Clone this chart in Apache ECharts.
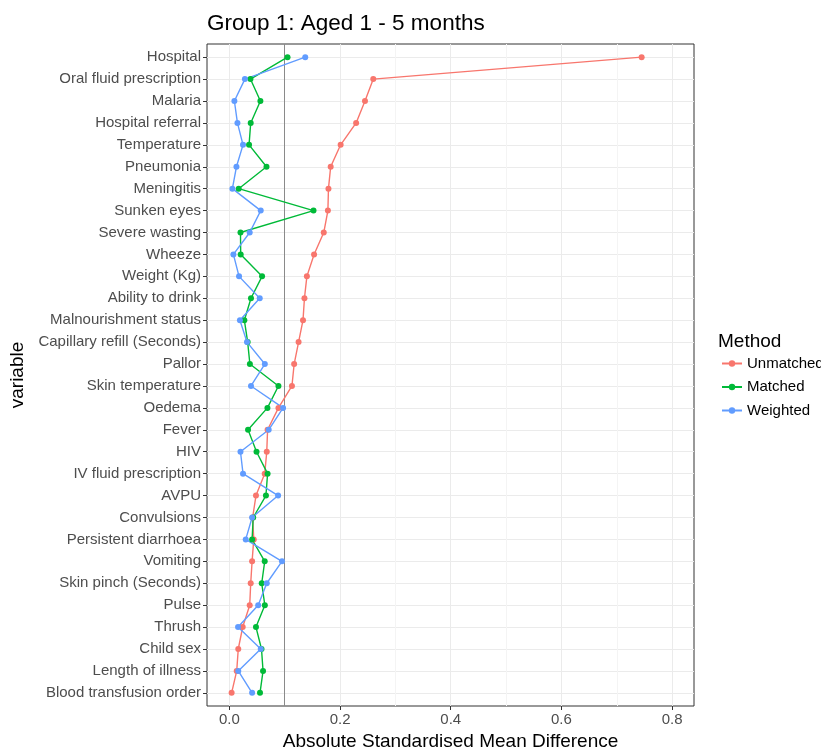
<!DOCTYPE html>
<html><head><meta charset="utf-8">
<script src="https://cdn.jsdelivr.net/npm/echarts@6/dist/echarts.min.js"></script>
<style>html,body{margin:0;padding:0;background:#fff}#c{width:821px;height:752px}</style>
</head><body><div id="c"></div>
<script>
const categories = ["Hospital","Oral fluid prescription","Malaria","Hospital referral","Temperature","Pneumonia","Meningitis","Sunken eyes","Severe wasting","Wheeze","Weight (Kg)","Ability to drink","Malnourishment status","Capillary refill (Seconds)","Pallor","Skin temperature","Oedema","Fever","HIV","IV fluid prescription","AVPU","Convulsions","Persistent diarrhoea","Vomiting","Skin pinch (Seconds)","Pulse","Thrush","Child sex","Length of illness","Blood transfusion order"];
const unmatched = [0.745,0.260,0.245,0.229,0.201,0.183,0.179,0.178,0.1705,0.153,0.140,0.1356,0.133,0.125,0.117,0.113,0.0886,0.069,0.0675,0.0638,0.048,0.042,0.044,0.041,0.0385,0.0367,0.024,0.016,0.0132,0.004];
const matched = [0.105,0.038,0.056,0.0385,0.0355,0.067,0.0168,0.152,0.020,0.0204,0.059,0.039,0.027,0.033,0.037,0.0886,0.0687,0.0337,0.049,0.069,0.066,0.043,0.041,0.0638,0.0584,0.064,0.048,0.058,0.0608,0.0553];
const weighted = [0.137,0.028,0.009,0.0145,0.0246,0.0127,0.0054,0.0566,0.0367,0.0072,0.0174,0.0548,0.019,0.0318,0.064,0.039,0.097,0.071,0.020,0.0246,0.088,0.041,0.0295,0.095,0.0675,0.052,0.0156,0.0566,0.016,0.041];
const xTicks = [0, 0.2, 0.4, 0.6, 0.8];
const xMinor = [0.1, 0.3, 0.5, 0.7];
const refLine = 0.1;
const seriesNames = ["Unmatched","Matched","Weighted"];
const colors = ["#F8766D","#00BA38","#619CFF"];

const idx = categories.map((c,i)=>i);
const toData = arr => arr.map((v,i)=>[v,i]);
const font = "Liberation Sans, Arial, sans-serif";
const chart = echarts.init(document.getElementById('c'), null, {renderer:'canvas'});
const mkSeries = (name, arr, color) => ({
  name, type:'line', data: toData(arr), color,
  symbol:'circle', symbolSize:6, showSymbol:true,
  lineStyle:{width:1.4, color}, itemStyle:{color},
  emphasis:{disabled:true}, animation:false, z:5
});
chart.setOption({
  animation:false,
  title:[{text:'Group 1: Aged 1 - 5 months', left:202, top:7,
    textStyle:{fontFamily:font, fontSize:22.5, fontWeight:'normal', color:'#000'}},
    {text:'Method', left:713, top:327, textStyle:{fontFamily:font, fontSize:19, fontWeight:'normal', color:'#000'}}],
  legend:{orient:'vertical', left:716, top:351, itemWidth:20, itemHeight:8, itemGap:8.5,
    data:seriesNames, textStyle:{fontFamily:font, fontSize:15, color:'#000'}, selectedMode:false},
  grid:{left:207, right:127, top:44, bottom:46, show:true, borderColor:'#333', borderWidth:1,
    backgroundColor:'transparent', outerBoundsMode:'none', containLabel:false},
  xAxis:{type:'value', min:-0.0405, max:0.8396,
    name:'Absolute Standardised Mean Difference', nameLocation:'middle', nameGap:26,
    nameTextStyle:{fontFamily:font, fontSize:19, color:'#000'},
    axisLine:{show:false, onZero:false},
    axisTick:{show:true, customValues:xTicks, length:4, lineStyle:{color:'#333'}},
    axisLabel:{customValues:xTicks, formatter:v=>v.toFixed(1), fontFamily:font, fontSize:15, color:'#4d4d4d', margin:6},
    splitLine:{show:true, lineStyle:{color:'#ebebeb', width:1}}},
  yAxis:{type:'value', min:-0.6, max:29.6, inverse:true,
    name:'variable', nameLocation:'middle', nameGap:166, nameRotate:90,
    nameTextStyle:{fontFamily:font, fontSize:19, color:'#000'},
    axisLine:{show:false, onZero:false},
    axisTick:{show:true, customValues:idx, length:4, lineStyle:{color:'#333'}},
    axisLabel:{customValues:idx, formatter:v=>categories[Math.round(v)], fontFamily:font, fontSize:15, color:'#4d4d4d', margin:6},
    splitLine:{show:true, lineStyle:{color:'#ebebeb', width:1}}},
  series:[
    {type:'line', data:[], silent:true, z:1, markLine:{silent:true, symbol:'none', label:{show:false},
      lineStyle:{color:'#f4f4f4', width:1, type:'solid'}, data:xMinor.map(v=>({xAxis:v})), animation:false}},
    {type:'line', data:[], silent:true, z:2, markLine:{silent:true, symbol:'none', label:{show:false},
      lineStyle:{color:'#8a8a8a', width:1, type:'solid'}, data:[{xAxis:refLine}], animation:false}},
    mkSeries(seriesNames[0], unmatched, colors[0]),
    mkSeries(seriesNames[1], matched, colors[1]),
    mkSeries(seriesNames[2], weighted, colors[2])
  ]
});
</script></body></html>
